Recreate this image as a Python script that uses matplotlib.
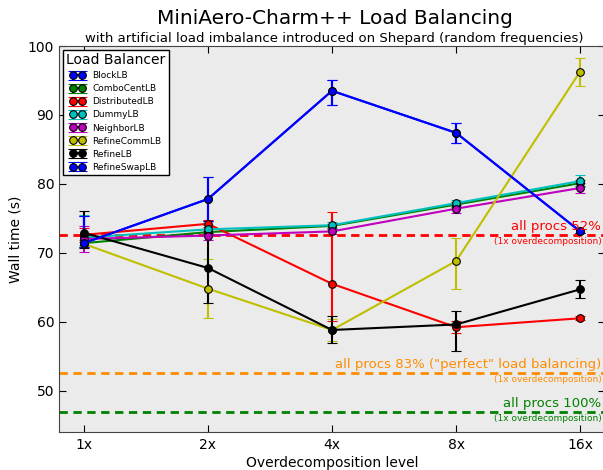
import numpy as np
import matplotlib
matplotlib.use("Agg")
import matplotlib.pyplot as plt

levels = ["1x", "2x", "4x", "8x", "16x"]
balancers = ["BlockLB", "ComboCentLB", "DistributedLB", "DummyLB",
             "NeighborLB", "RefineCommLB", "RefineLB", "RefineSwapLB"]
colors = ["b", "g", "r", "c", "m", "y", "k", "b"]

# mean wall time (s) per balancer at 1x,2x,4x,8x,16x
block_lb = [71.4, 77.8, 93.5, 87.4, 73.1]
combocent_lb = [71.4, 73.0, 73.9, 77.0, 80.1]
distributed_lb = [72.6, 74.2, 65.5, 59.2, 60.5]
dummy_lb = [72.2, 73.4, 74.0, 77.2, 80.4]
neighbor_lb = [72.0, 72.5, 73.1, 76.4, 79.4]
refinecomm_lb = [71.3, 64.8, 58.8, 68.8, 96.3]
refine_lb = [72.9, 67.8, 58.8, 59.6, 64.7]
refineswap_lb = [71.4, 77.8, 93.5, 87.4, 73.1]

# lower / upper error
block_lo = [0.6, 3.2, 2.1, 1.5, 0.3]
block_hi = [3.9, 3.2, 1.5, 1.4, 0.3]
combocent_lo = [0.5, 0.4, 0.3, 0.4, 0.4]
combocent_hi = [0.5, 0.4, 0.3, 0.4, 0.4]
distributed_lo = [1.0, 0.5, 5.4, 0.9, 0.3]
distributed_hi = [1.0, 0.5, 10.4, 0.9, 0.3]
dummy_lo = [1.0, 0.6, 0.4, 0.4, 0.9]
dummy_hi = [3.3, 0.6, 0.4, 0.4, 0.9]
neighbor_lo = [1.9, 0.7, 0.4, 0.6, 0.7]
neighbor_hi = [1.9, 0.7, 0.4, 0.6, 0.7]
refinecomm_lo = [0.5, 4.3, 1.6, 4.1, 2.1]
refinecomm_hi = [0.5, 4.3, 1.6, 3.4, 2.0]
refine_lo = [2.2, 5.1, 1.9, 3.8, 1.2]
refine_hi = [3.1, 5.1, 2.1, 2.0, 1.4]
refineswap_lo = block_lo
refineswap_hi = block_hi

means = [block_lb, combocent_lb, distributed_lb, dummy_lb,
         neighbor_lb, refinecomm_lb, refine_lb, refineswap_lb]
lows = [block_lo, combocent_lo, distributed_lo, dummy_lo,
        neighbor_lo, refinecomm_lo, refine_lo, refineswap_lo]
highs = [block_hi, combocent_hi, distributed_hi, dummy_hi,
         neighbor_hi, refinecomm_hi, refine_hi, refineswap_hi]

# baselines (1x overdecomposition)
base_vals = [72.6, 52.55, 46.9]
base_labels = ["all procs 52%", 'all procs 83% ("perfect" load balancing)', "all procs 100%"]
base_colors = ["red", "darkorange", "green"]

fig = plt.figure(figsize=(6.03, 4.70), dpi=100)
ax = fig.add_axes([59/603, 38/470, 546/603, 386/470])
ax.set_facecolor("#EBEBEB")

x = np.arange(len(levels))
for name, c, m, lo, hi in zip(balancers, colors, means, lows, highs):
    ax.errorbar(x, m, yerr=[lo, hi], color=c, lw=1.5, marker="o", ms=5.5,
                mec="k", mew=0.8, capsize=3.5, capthick=1.2, elinewidth=1.5,
                label=name)

for v, lab, c in zip(base_vals, base_labels, base_colors):
    ax.axhline(v, color=c, ls="--", lw=2, dashes=(3, 2))
    ax.text(4.17, v + 0.25, lab, color=c, fontsize=9.5, ha="right", va="bottom")
    ax.text(4.17, v - 0.3, "(1x overdecomposition)", color=c, fontsize=6.5,
            ha="right", va="top")

ax.set_xlim(-0.2, 4.2)
ax.set_ylim(44, 100)
ax.set_xticks(x)
ax.set_xticklabels(levels)
ax.set_yticks([50, 60, 70, 80, 90, 100])
ax.tick_params(direction="in", top=True, right=True, length=5, labelsize=10)
ax.tick_params(axis="x", pad=4)
for s in ax.spines.values():
    s.set_color("#444444")
ax.set_xlabel("Overdecomposition level", fontsize=10, labelpad=3)
ax.set_ylabel("Wall time (s)", fontsize=10)

leg = ax.legend(loc="upper left", title="Load Balancer", fontsize=6.5,
                numpoints=2, fancybox=False, framealpha=1, edgecolor="k",
                borderaxespad=0.4, handlelength=1.6, labelspacing=0.45)
leg.get_title().set_fontsize(10)

fig.text(0.555, 0.961, "MiniAero-Charm++ Load Balancing", fontsize=14.5, ha="center", va="center")
fig.text(0.555, 0.918, "with artificial load imbalance introduced on Shepard (random frequencies)",
         fontsize=9.5, ha="center", va="center")

fig.savefig("out.png", dpi=100)
